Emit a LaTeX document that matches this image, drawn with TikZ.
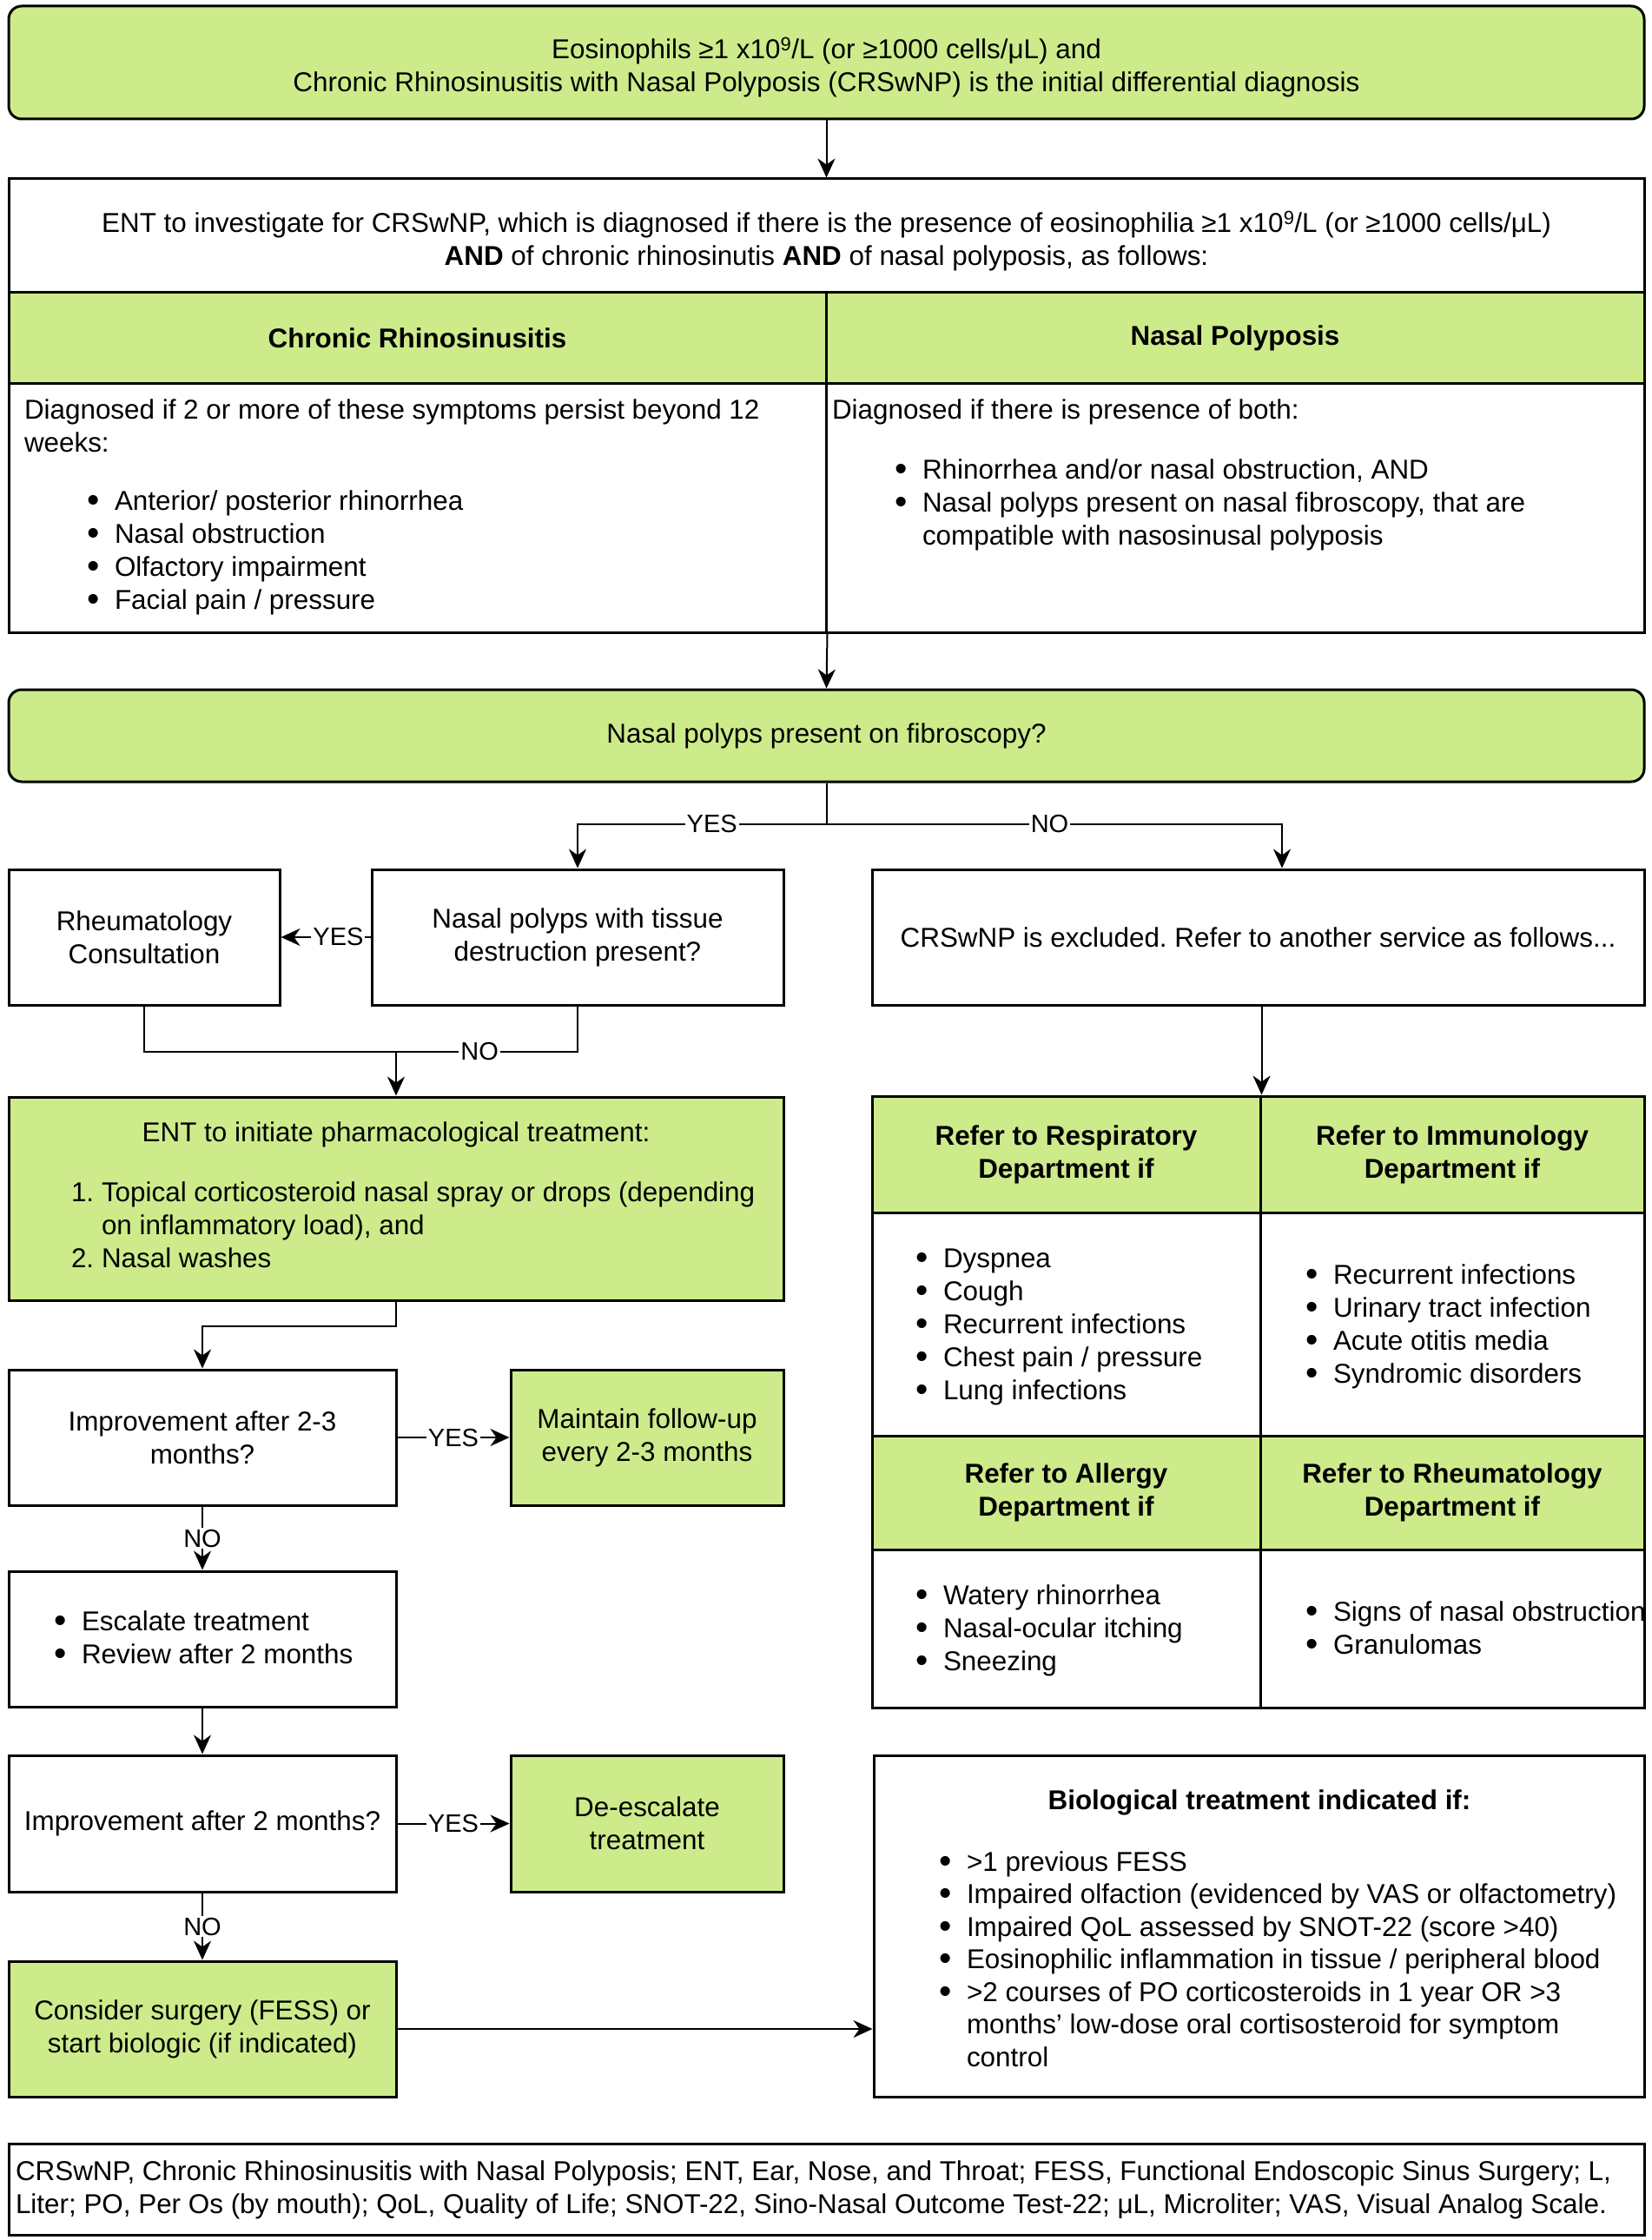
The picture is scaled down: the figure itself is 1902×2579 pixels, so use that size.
\documentclass[tikz,border=0pt]{standalone}
\usepackage{fontspec}
\usepackage{graphicx}
\setmainfont{Liberation Sans}
\usetikzlibrary{arrows.meta}
\definecolor{grn}{RGB}{205,235,139}
\newcommand\fnt{\fontsize{31.4}{38}\selectfont\frenchspacing}
\newcommand\blt{\raisebox{-0.07em}{\scalebox{1.3}{\textbullet}}}
\newcommand\bx[7]{\node[#1, minimum width={#5-#3}, minimum height={#6-#4}] (#2) at ({(#3+#5)/2},{(#4+#6)/2}) {#7};}
\newcommand\Lx[4]{\node[txt, anchor=base west] (#1) at (#2,#3) {#4};}
\newcommand\Bu[4]{\node[txt, anchor=base west] (#1) at (#2,#3) {\makebox[32pt][l]{\blt}#4};}
\begin{document}
\begin{tikzpicture}[x=1pt,y=-1pt,
  box/.style={draw, line width=3pt, font=\fnt, align=center, inner sep=4pt, fill=white},
  gbox/.style={box, fill=grn},
  rbox/.style={gbox, rounded corners=15pt},
  txt/.style={font=\fnt, inner sep=0pt, outer sep=0pt},
  con/.style={line width=2pt},
  arr/.style={con, -{Stealth[length=22pt,width=20pt,inset=7pt]}},
  lbl/.style={fill=white, inner sep=2pt, font=\fontsize{29}{34}\selectfont}]
\fill[white] (0,0) rectangle (1902,2579);
\useasboundingbox (0,0) rectangle (1902,2579);

% top
\bx{rbox}{top}{10}{7}{1893}{137}{}
\node[txt, align=center] (toptxt) at ([yshift=-6pt]top.center) {Eosinophils ≥1 x10\textsuperscript{9}/L (or ≥1000 cells/μL) and\\Chronic Rhinosinusitis with Nasal Polyposis (CRSwNP) is the initial differential diagnosis};
\bx{box}{ent1}{10}{206}{1893}{337}{}
\node[txt, align=center] (ent1txt) at ([yshift=-6pt]ent1.center) {ENT to investigate for CRSwNP, which is diagnosed if there is the presence of eosinophilia ≥1 x10\textsuperscript{9}/L (or ≥1000 cells/μL)\\\textbf{AND} of chronic rhinosinutis \textbf{AND} of nasal polyposis, as follows:};
\bx{gbox}{crh}{10}{337}{951}{441}{\textbf{Chronic Rhinosinusitis}}
\bx{gbox}{nph}{951}{337}{1893}{441}{\textbf{Nasal Polyposis}}
\bx{box}{crb}{10}{441}{951}{728}{}
\bx{box}{npb}{951}{441}{1893}{728}{}
\Lx{cr0}{28}{482}{Diagnosed if 2 or more of these symptoms persist beyond 12}
\Lx{cr0b}{28}{520}{weeks:}
\Bu{cr1}{100}{587}{Anterior/ posterior rhinorrhea}
\Bu{cr2}{100}{625}{Nasal obstruction}
\Bu{cr3}{100}{663}{Olfactory impairment}
\Bu{cr4}{100}{701}{Facial pain / pressure}
\Lx{np0}{958}{482}{Diagnosed if there is presence of both:}
\Bu{np1}{1030}{551}{Rhinorrhea and/or nasal obstruction, AND}
\Bu{np2}{1030}{589}{Nasal polyps present on nasal fibroscopy, that are}
\Lx{np2b}{1062}{627}{compatible with nasosinusal polyposis}

\bx{rbox}{fib}{10}{794}{1893}{900}{Nasal polyps present on fibroscopy?}
\bx{box}{rheum}{10}{1001}{322}{1157}{Rheumatology\\Consultation}
\bx{box}{tissue}{428}{1001}{902}{1157}{Nasal polyps with tissue\\destruction present?}
\bx{box}{excl}{1004}{1001}{1893}{1157}{CRSwNP is excluded. Refer to another service as follows...}

\bx{gbox}{pharm}{10}{1263}{902}{1497}{}
\node[txt, anchor=base] (ph0) at (456,1314) {ENT to initiate pharmacological treatment:};
\Lx{ph1n}{82}{1383}{1.}
\Lx{ph1}{117}{1383}{Topical corticosteroid nasal spray or drops (depending}
\Lx{ph1b}{117}{1421}{on inflammatory load), and}
\Lx{ph2n}{82}{1459}{2.}
\Lx{ph2}{117}{1459}{Nasal washes}

\bx{box}{imp1}{10}{1577}{456}{1733}{Improvement after 2-3\\months?}
\bx{gbox}{maint}{588}{1577}{902}{1733}{Maintain follow-up\\every 2-3 months}
\bx{box}{esc}{10}{1809}{456}{1965}{}
\Bu{es1}{62}{1877}{Escalate treatment}
\Bu{es2}{62}{1915}{Review after 2 months}
\bx{box}{imp2}{10}{2021}{456}{2178}{Improvement after 2 months?}
\bx{gbox}{deesc}{588}{2021}{902}{2178}{De-escalate\\treatment}
\bx{gbox}{surg}{10}{2258}{456}{2414}{Consider surgery (FESS) or\\start biologic (if indicated)}

% referral table
\bx{gbox}{rh1}{1004}{1262}{1451}{1396}{\textbf{Refer to Respiratory}\\\textbf{Department if}}
\bx{gbox}{ih1}{1451}{1262}{1893}{1396}{\textbf{Refer to Immunology}\\\textbf{Department if}}
\bx{box}{rb1}{1004}{1396}{1451}{1653}{}
\bx{box}{ib1}{1451}{1396}{1893}{1653}{}
\bx{gbox}{ah2}{1004}{1653}{1451}{1784}{\textbf{Refer to Allergy}\\\textbf{Department if}}
\bx{gbox}{mh2}{1451}{1653}{1893}{1784}{\textbf{Refer to Rheumatology}\\\textbf{Department if}}
\bx{box}{ab2}{1004}{1784}{1451}{1966}{}
\bx{box}{mb2}{1451}{1784}{1893}{1966}{}
\Bu{re1}{1054}{1459}{Dyspnea}
\Bu{re2}{1054}{1497}{Cough}
\Bu{re3}{1054}{1535}{Recurrent infections}
\Bu{re4}{1054}{1573}{Chest pain / pressure}
\Bu{re5}{1054}{1611}{Lung infections}
\Bu{im1}{1503}{1478}{Recurrent infections}
\Bu{im2}{1503}{1516}{Urinary tract infection}
\Bu{im3}{1503}{1554}{Acute otitis media}
\Bu{im4}{1503}{1592}{Syndromic disorders}
\Bu{al1}{1054}{1847}{Watery rhinorrhea}
\Bu{al2}{1054}{1885}{Nasal-ocular itching}
\Bu{al3}{1054}{1923}{Sneezing}
\Bu{rm1}{1503}{1866}{Signs of nasal obstruction}
\Bu{rm2}{1503}{1904}{Granulomas}

% biological
\bx{box}{bio}{1006}{2021}{1893}{2414}{}
\node[txt, anchor=base] (bi0) at (1450,2083) {\textbf{Biological treatment indicated if:}};
\Bu{bi1}{1081}{2154}{>1 previous FESS}
\Bu{bi2}{1081}{2191}{Impaired olfaction (evidenced by VAS or olfactometry)}
\Bu{bi3}{1081}{2229}{Impaired QoL assessed by SNOT-22 (score >40)}
\Bu{bi4}{1081}{2266}{Eosinophilic inflammation in tissue / peripheral blood}
\Bu{bi5}{1081}{2304}{>2 courses of PO corticosteroids in 1 year OR >3}
\Lx{bi5b}{1113}{2341}{months' low-dose oral cortisosteroid for symptom}
\Lx{bi5c}{1113}{2379}{control}

% footer
\bx{box}{foot}{10}{2468}{1893}{2573}{}
\Lx{ft1}{18}{2510}{CRSwNP, Chronic Rhinosinusitis with Nasal Polyposis; ENT, Ear, Nose, and Throat; FESS, Functional Endoscopic Sinus Surgery; L,}
\Lx{ft2}{18}{2548}{Liter; PO, Per Os (by mouth); QoL, Quality of Life; SNOT-22, Sino-Nasal Outcome Test-22; μL, Microliter; VAS, Visual Analog Scale.}

% connectors
\draw[arr] (top.south) -- (ent1.north);
\draw[arr] (crb.south east) -- (fib.north);
\coordinate (sp) at (951.5,949);
\coordinate (nox) at (1476,949);
\draw[con] (fib.south) -- (sp);
\draw[arr] (sp) -| node[lbl, pos=0.23]{YES} (tissue.north);
\draw[arr] (sp) -| node[lbl, pos=0.245]{NO} (excl.north -| nox);
\draw[arr] (tissue.west) -- node[lbl, pos=0.36]{YES} (rheum.east);
\coordinate (junc) at (456,1211);
\draw[con] (rheum.south) |- (junc);
\draw[con] (tissue.south) |- node[lbl, pos=0.77]{NO} (junc);
\draw[arr] (junc) -- (pharm.north);
\draw[arr] (pharm.south) -- ++(0,28) -| (imp1.north);
\draw[arr] (imp1.east) -- node[lbl]{YES} (maint.west);
\draw[arr] (imp1.south) -- node[lbl]{NO} (esc.north);
\draw[arr] (esc.south) -- (imp2.north);
\draw[arr] (imp2.east) -- node[lbl]{YES} (deesc.west);
\draw[arr] (imp2.south) -- node[lbl]{NO} (surg.north);
\draw[arr] (surg.east) -- (surg.east -| bio.west);
\draw[arr] (excl.south -| rh1.north east) -- (rh1.north east);
\end{tikzpicture}
\end{document}
